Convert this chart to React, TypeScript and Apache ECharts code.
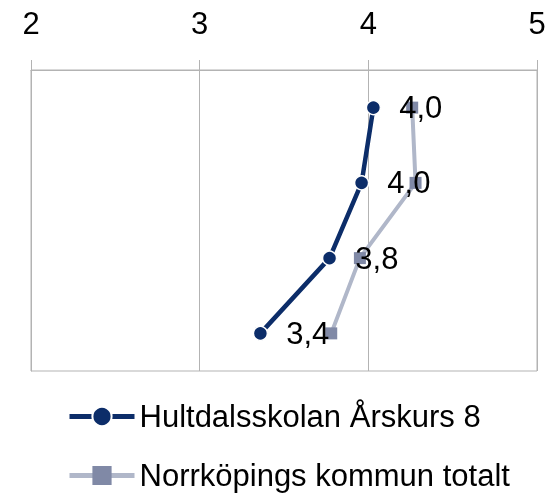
import React, { useEffect, useRef } from "react";
import * as echarts from "echarts";

const categories = ["Fråga 1", "Fråga 2", "Fråga 3", "Fråga 4"];
const hultdalValues = [4.03, 3.96, 3.77, 3.36];
const norrkopingValues = [4.26, 4.28, 3.95, 3.78];
const seriesNames = ["Hultdalsskolan Årskurs 8", "Norrköpings kommun totalt"];
const xMin = 2;
const xMax = 5;

export default function App() {
  const ref = useRef<HTMLDivElement>(null);
  useEffect(() => {
    if (!ref.current) return;
    const chart = echarts.init(ref.current, null, { renderer: "svg" });
    const font = "'Liberation Sans', Arial, sans-serif";
    const legendBase = {
      orient: "horizontal",
      left: 62,
      itemWidth: 65,
      itemHeight: 24,
      textStyle: { fontSize: 31, color: "#000", fontFamily: font },
      lineStyle: { width: 5 },
    };
    chart.setOption({
      animation: false,
      textStyle: { fontFamily: font },
      grid: {
        left: 31,
        right: 12,
        top: 70,
        bottom: 122,
        show: true,
        borderColor: "#b3b3b3",
        borderWidth: 1,
      },
      xAxis: {
        type: "value",
        position: "top",
        min: xMin,
        max: xMax,
        interval: 1,
        axisLine: { show: true, lineStyle: { color: "#b3b3b3", width: 1 } },
        axisTick: { show: true, length: 10, lineStyle: { color: "#b3b3b3" } },
        splitLine: { show: true, lineStyle: { color: "#b3b3b3", width: 1 } },
        axisLabel: {
          color: "#000",
          fontSize: 31,
          fontFamily: font,
          margin: 31,
        },
      },
      yAxis: {
        type: "category",
        data: categories,
        inverse: true,
        boundaryGap: true,
        axisLine: { show: true, lineStyle: { color: "#b3b3b3" } },
        axisTick: { show: false },
        axisLabel: { show: false },
        splitLine: { show: false },
      },
      legend: [
        { ...legendBase, top: 396, data: [seriesNames[0]] },
        { ...legendBase, top: 455, data: [seriesNames[1]] },
      ],
      series: [
        {
          name: seriesNames[0],
          type: "line",
          data: hultdalValues,
          symbol: "circle",
          symbolSize: 14,
          lineStyle: { color: "#0c2d69", width: 4.5 },
          itemStyle: { color: "#0c2d69", borderColor: "#fff", borderWidth: 1.5 },
          label: {
            show: true,
            position: "right",
            distance: 18,
            color: "#000",
            fontSize: 31,
            fontFamily: font,
            formatter: (p: any) => Number(p.value).toFixed(1).replace(".", ","),
          },
          z: 3,
        },
        {
          name: seriesNames[1],
          type: "line",
          data: norrkopingValues,
          symbol: "rect",
          symbolSize: 12,
          lineStyle: { color: "#b0b7c9", width: 4 },
          itemStyle: { color: "#8089a6" },
          z: 2,
        },
      ],
    });
    return () => chart.dispose();
  }, []);
  return (
    <div
      ref={ref}
      style={{ position: "fixed", left: 0, top: 0, width: 549, height: 493 }}
    />
  );
}
